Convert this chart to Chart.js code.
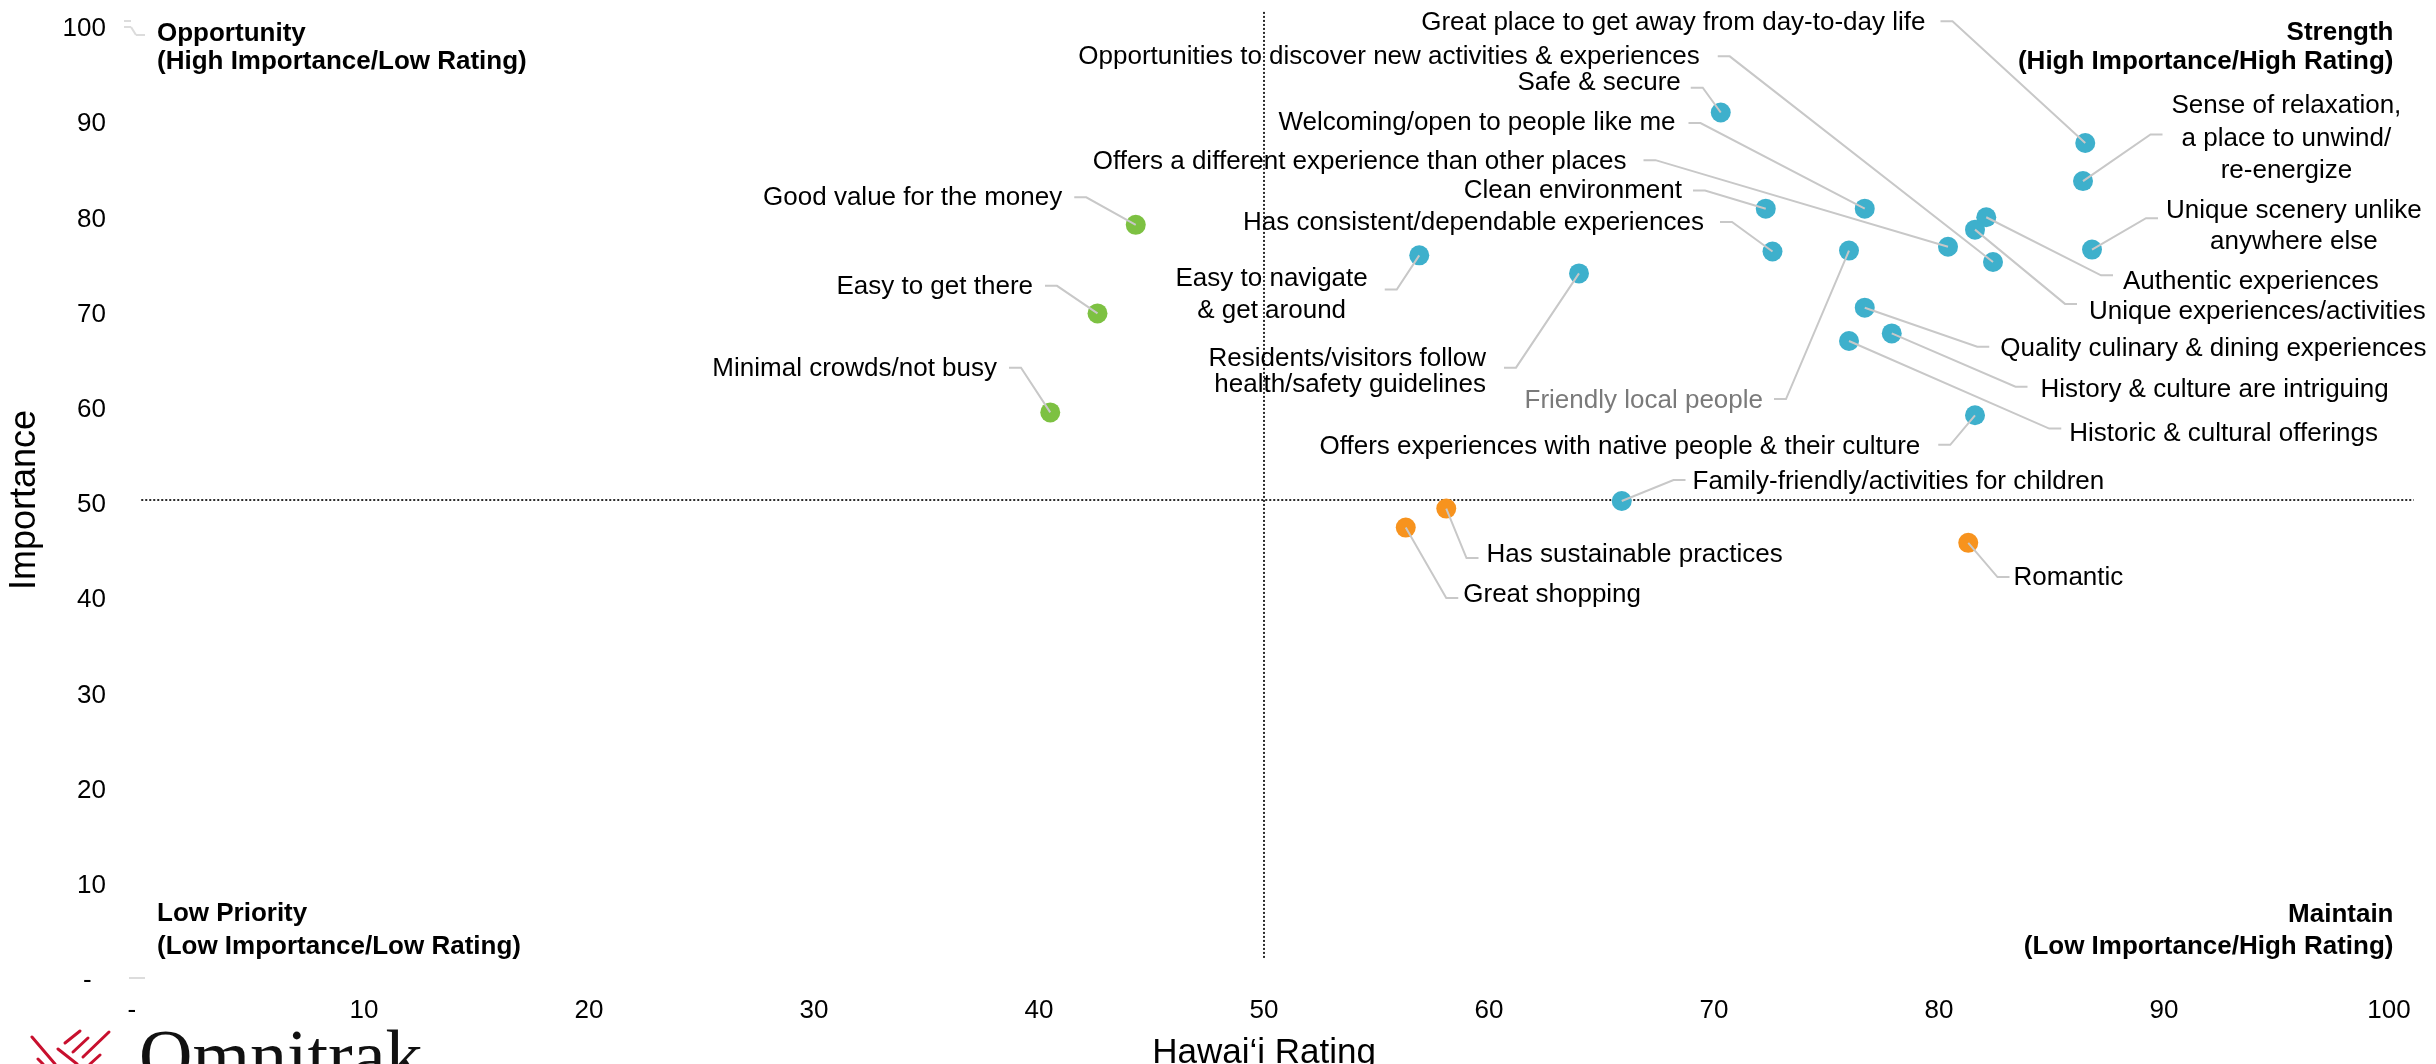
<!DOCTYPE html>
<html>
<head>
<meta charset="utf-8">
<script src="https://cdn.jsdelivr.net/npm/chart.js@4.4.1/dist/chart.umd.min.js"></script>
<style>
  html, body { margin: 0; padding: 0; background: #fff; }
  canvas { display: block; }
</style>
</head>
<body>
<canvas id="chart1" width="2436" height="1064"></canvas>
<script>
// attribute names (line breaks as shown on the chart)
var attributes = [
    "Good value for the money",
    "Easy to get there",
    "Minimal crowds/not busy",
    "Easy to navigate\n& get around",
    "Residents/visitors follow\nhealth/safety guidelines",
    "Safe & secure",
    "Clean environment",
    "Has consistent/dependable experiences",
    "Welcoming/open to people like me",
    "Friendly local people",
    "Offers a different experience than other places",
    "Authentic experiences",
    "Unique experiences/activities",
    "Opportunities to discover new activities & experiences",
    "Great place to get away from day-to-day life",
    "Sense of relaxation,\na place to unwind/\nre-energize",
    "Unique scenery unlike\nanywhere else",
    "Quality culinary & dining experiences",
    "History & culture are intriguing",
    "Historic & cultural offerings",
    "Offers experiences with native people & their culture",
    "Family-friendly/activities for children",
    "Has sustainable practices",
    "Great shopping",
    "Romantic"
];

// Hawai'i rating (x)
var hawaiiRating = [44.3, 42.6, 40.5, 56.9, 64.0, 70.3, 72.3, 72.6, 76.7, 76.0, 80.4, 82.1, 81.6,
    82.4, 86.5, 86.4, 86.8, 76.7, 77.9, 76.0, 81.6, 65.9, 58.1, 56.3, 81.3];

// importance (y)
var importance = [78.9, 69.6, 59.2, 75.7, 73.8, 90.7, 80.6, 76.1, 80.6, 76.2, 76.6, 79.7, 78.4,
    75.0, 87.5, 83.5, 76.3, 70.2, 67.5, 66.7, 58.9, 49.9, 49.1, 47.1, 45.5];

var segment = ["Opportunity", "Opportunity", "Opportunity",
    "Strength", "Strength", "Strength", "Strength", "Strength", "Strength", "Strength", "Strength",
    "Strength", "Strength", "Strength", "Strength", "Strength", "Strength", "Strength", "Strength",
    "Strength", "Strength", "Strength",
    "Maintain", "Maintain", "Maintain"];

var tickValues = [0, 10, 20, 30, 40, 50, 60, 70, 80, 90, 100];
var midpoint = 50;

// ---- styling / layout (not data) ----
var segmentColors = { Opportunity: "#7DC142", Strength: "#3EB0CC", Maintain: "#F7931E" };

// callout elbow (in axis units), side of text, alignment, text offsets
var calloutLayout = [
    { side: "left", ex: 42.1, ey: 81.8, dy: 1, gap: 12 },
    { side: "left", ex: 40.8, ey: 72.5, dy: 1, gap: 12 },
    { side: "left", ex: 39.2, ey: 63.9, dy: 1, gap: 12 },
    { side: "left", ex: 55.9, ey: 72.1, dy: 5, gap: 17, align: "center", lh: 32 },
    { side: "left", ex: 61.2, ey: 63.9, dy: 4, gap: 18, lh: 26 },
    { side: "left", ex: 69.5, ey: 93.3, dy: -5, gap: 10 },
    { side: "left", ex: 69.6, ey: 82.5, dy: 0, gap: 11 },
    { side: "left", ex: 70.8, ey: 79.2, dy: 1, gap: 16 },
    { side: "left", ex: 69.4, ey: 89.6, dy: 0, gap: 13 },
    { side: "left", ex: 73.2, ey: 60.6, dy: 2, gap: 11, color: "#7a7a7a" },
    { side: "left", ex: 67.4, ey: 85.7, dy: 2, gap: 17 },
    { side: "right", ex: 87.2, ey: 73.6, dy: 7, gap: 10 },
    { side: "right", ex: 85.6, ey: 70.6, dy: 8, gap: 12 },
    { side: "left", ex: 70.7, ey: 96.6, dy: 0, gap: 18 },
    { side: "left", ex: 80.6, ey: 100.3, dy: 2, gap: 15 },
    { side: "right", ex: 89.4, ey: 88.4, dy: 4, gap: 9, align: "center", lh: 32.5 },
    { side: "right", ex: 89.2, ey: 79.6, dy: 8, gap: 8, align: "center", lh: 31 },
    { side: "right", ex: 81.7, ey: 66.1, dy: 2, gap: 11 },
    { side: "right", ex: 83.4, ey: 61.9, dy: 3, gap: 13 },
    { side: "right", ex: 84.9, ey: 57.5, dy: 5, gap: 8 },
    { side: "left", ex: 80.5, ey: 55.8, dy: 2, gap: 18 },
    { side: "right", ex: 68.2, ey: 52.1, dy: 2, gap: 7 },
    { side: "right", ex: 59.0, ey: 43.9, dy: -3, gap: 8 },
    { side: "right", ex: 58.1, ey: 39.7, dy: -3, gap: 5 },
    { side: "right", ex: 82.6, ey: 41.9, dy: 1, gap: 4 }
];

var quadrantNotes = [
    { lines: ["Opportunity", "(High Importance/Low Rating)"], x: 0.8, y: [98.95, 96.0], align: "left" },
    { lines: ["Strength", "(High Importance/High Rating)"], x: 100.2, y: [99.05, 96.0], align: "right" },
    { lines: ["Low Priority", "(Low Importance/Low Rating)"], x: 0.8, y: [6.5, 3.05], align: "left" },
    { lines: ["Maintain", "(Low Importance/High Rating)"], x: 100.2, y: [6.4, 3.05], align: "right" }
];

var FONT = '"Liberation Sans", Arial, sans-serif';
Chart.defaults.font.family = FONT;
Chart.defaults.color = "#000";

function pointsFor(seg) {
    var pts = [];
    for (var i = 0; i < attributes.length; i++) {
        if (segment[i] == seg) pts.push({ x: hawaiiRating[i], y: importance[i] });
    }
    return pts;
}

function dotSet(seg) {
    return {
        label: seg,
        data: pointsFor(seg),
        backgroundColor: segmentColors[seg],
        borderWidth: 0,
        pointRadius: 10,
        pointHoverRadius: 10
    };
}

var dividerStyle = {
    type: "line",
    borderColor: "#2a2a2a",
    borderWidth: 2,
    borderDash: [2, 2],
    pointRadius: 0,
    fill: false,
    clip: false
};

var callouts = {
    id: "callouts",
    afterDatasetsDraw: function(chart) {
        var ctx = chart.ctx;
        var xs = chart.scales.x, ys = chart.scales.y;
        ctx.save();
        ctx.font = "26px " + FONT;
        ctx.textBaseline = "middle";
        for (var i = 0; i < attributes.length; i++) {
            var L = calloutLayout[i];
            var px = xs.getPixelForValue(hawaiiRating[i]);
            var py = ys.getPixelForValue(importance[i]);
            var ex = xs.getPixelForValue(L.ex);
            var ey = ys.getPixelForValue(L.ey);
            var dir = L.side == "left" ? -1 : 1;
            var hx = ex + dir * 12;

            ctx.strokeStyle = "#c8c8c8";
            ctx.lineWidth = 2;
            ctx.beginPath();
            ctx.moveTo(hx, ey);
            ctx.lineTo(ex, ey);
            ctx.lineTo(px, py);
            ctx.stroke();

            var lines = attributes[i].split("\n");
            var lh = L.lh || 32;
            var w = 0;
            lines.forEach(function(t) { w = Math.max(w, ctx.measureText(t).width); });
            var tx = hx + dir * L.gap;
            var top = ey + L.dy - lh * (lines.length - 1) / 2;
            ctx.fillStyle = L.color || "#000";
            lines.forEach(function(t, k) {
                if (L.align == "center") {
                    ctx.textAlign = "center";
                    ctx.fillText(t, tx + dir * w / 2, top + k * lh);
                } else {
                    ctx.textAlign = dir < 0 ? "right" : "left";
                    ctx.fillText(t, tx, top + k * lh);
                }
            });
        }

        // leftover stubs at the corners of the plot
        ctx.strokeStyle = "#dcdcdc";
        ctx.lineWidth = 2;
        [[124, 21, 131, 21], [124, 27, 131, 27], [131, 27, 136, 35], [136, 35, 145, 35], [129, 978, 145, 978]]
            .forEach(function(s) {
                ctx.beginPath();
                ctx.moveTo(s[0], s[1]);
                ctx.lineTo(s[2], s[3]);
                ctx.stroke();
            });

        // quadrant captions
        ctx.font = "bold 26px " + FONT;
        ctx.fillStyle = "#000";
        quadrantNotes.forEach(function(q) {
            ctx.textAlign = q.align;
            q.lines.forEach(function(t, k) {
                ctx.fillText(t, xs.getPixelForValue(q.x), ys.getPixelForValue(q.y[k]));
            });
        });
        ctx.restore();
    },
    afterDraw: function(chart) {
        // Omnitrak logo, bottom left
        var ctx = chart.ctx;
        ctx.save();
        ctx.strokeStyle = "#c8102e";
        ctx.lineWidth = 3;
        ctx.lineCap = "round";
        var strokes = [
            [32, 1037, 55, 1064], [38, 1059, 43, 1064], [58, 1049, 77, 1064],
            [65, 1043, 80, 1031], [73, 1052, 88, 1038], [83, 1057, 109, 1032], [90, 1064, 100, 1055]
        ];
        strokes.forEach(function(s) {
            ctx.beginPath();
            ctx.moveTo(s[0], s[1]);
            ctx.lineTo(s[2], s[3]);
            ctx.stroke();
        });
        ctx.fillStyle = "#111";
        ctx.font = '74px "Liberation Serif", "Times New Roman", serif';
        ctx.textAlign = "left";
        ctx.textBaseline = "alphabetic";
        ctx.fillText("Omnitrak", 139, 1081);
        ctx.restore();
    }
};

function tickLabel(v) {
    return v === 0 ? "-  " : v;
}

function fixedTicks(s) {
    s.ticks = tickValues.map(function(v) { return { value: v }; });
}

var ctx = document.getElementById("chart1").getContext("2d");
var chart1 = new Chart(ctx, {
    type: "scatter",
    data: {
        datasets: [
            dotSet("Strength"),
            dotSet("Opportunity"),
            dotSet("Maintain"),
            Object.assign({ data: [{ x: midpoint, y: 1.9 }, { x: midpoint, y: 101.3 }] }, dividerStyle),
            Object.assign({ data: [{ x: 0.1, y: midpoint }, { x: 101.1, y: midpoint }] }, dividerStyle)
        ]
    },
    options: {
        responsive: false,
        devicePixelRatio: 1,
        animation: false,
        layout: { padding: { top: 24, right: 47, left: 0, bottom: 0 } },
        plugins: {
            legend: { display: false },
            tooltip: { enabled: false }
        },
        scales: {
            x: {
                type: "linear",
                min: 0,
                max: 100,
                afterBuildTicks: fixedTicks,
                afterFit: function(s) { s.height = 88; },
                grid: { display: false, drawTicks: false },
                border: { display: false },
                ticks: { callback: tickLabel, font: { size: 26 }, padding: 19, maxRotation: 0, autoSkip: false },
                title: { display: true, text: "Hawai\u2018i Rating", font: { size: 35, lineHeight: 0.8 }, padding: { top: 0, bottom: -3 } }
            },
            y: {
                type: "linear",
                min: 0,
                max: 100,
                afterBuildTicks: fixedTicks,
                afterFit: function(s) {
                    s.width = 139;
                    s.paddingTop = 0;
                    s.paddingBottom = 0;
                },
                grid: { display: false, drawTicks: false },
                border: { display: false },
                ticks: { callback: tickLabel, font: { size: 26 }, padding: 33, labelOffset: 5, autoSkip: false },
                title: { display: true, text: "Importance", font: { size: 36 }, padding: { top: 3, bottom: 0 } }
            }
        }
    },
    plugins: [callouts]
});
</script>
</body>
</html>
